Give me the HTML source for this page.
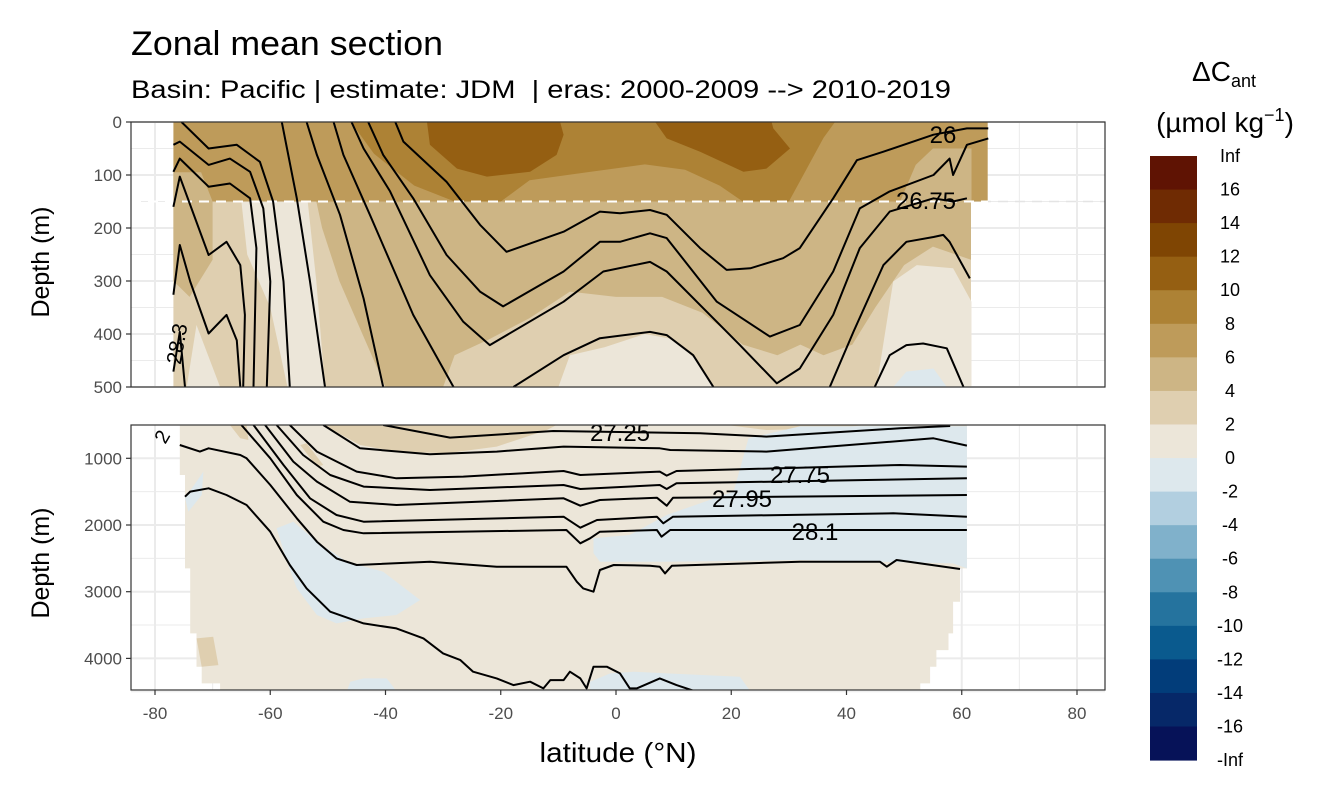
<!DOCTYPE html>
<html><head><meta charset="utf-8">
<style>
body{margin:0;background:#fff;}
svg{display:block;font-family:"Liberation Sans",sans-serif;}
</style></head>
<body>
<svg id="chart" width="1344" height="806" viewBox="0 0 1344 806" xmlns="http://www.w3.org/2000/svg">
<defs>
<clipPath id="clipTop"><rect x="131" y="122" width="974" height="265"/></clipPath>
<clipPath id="clipBot"><rect x="131" y="425" width="974" height="265"/></clipPath>
</defs>
<text x="131" y="55" font-size="34" textLength="312" lengthAdjust="spacingAndGlyphs" fill="#000">Zonal mean section</text>
<text x="131" y="98" font-size="25" textLength="820" lengthAdjust="spacingAndGlyphs" fill="#000" xml:space="preserve">Basin: Pacific | estimate: JDM  | eras: 2000-2009 --&gt; 2010-2019</text>
<g id="gridTop"></g>
<g id="gridBot"></g>
<g id="fillTop" clip-path="url(#clipTop)"></g>
<g id="fillBot" clip-path="url(#clipBot)"></g>
<line x1="131" y1="201.5" x2="1105" y2="201.5" stroke="#e4e4e4" stroke-width="1.5" stroke-dasharray="10,7"/>
<line x1="131" y1="201.5" x2="988" y2="201.5" stroke="#fff" stroke-width="2" stroke-dasharray="10,7"/>
<g id="linesTop" clip-path="url(#clipTop)"></g>
<g id="linesBot" clip-path="url(#clipBot)"></g>
<rect x="131" y="122" width="974" height="265" fill="none" stroke="#333" stroke-width="1.2"/>
<rect x="131" y="425" width="974" height="265" fill="none" stroke="#333" stroke-width="1.2"/>
<g id="axes"></g>
<text transform="translate(49,262) rotate(-90)" text-anchor="middle" font-size="25" textLength="111" lengthAdjust="spacingAndGlyphs">Depth (m)</text>
<text transform="translate(49,563) rotate(-90)" text-anchor="middle" font-size="25" textLength="111" lengthAdjust="spacingAndGlyphs">Depth (m)</text>
<text x="618" y="762" text-anchor="middle" font-size="28" textLength="157" lengthAdjust="spacingAndGlyphs">latitude (°N)</text>
<g id="legend">
<text x="1224" y="81" text-anchor="middle" font-size="28">ΔC<tspan font-size="18" dy="6">ant</tspan></text>
<text x="1225" y="132" text-anchor="middle" font-size="28">(µmol kg<tspan font-size="18" dy="-11">−1</tspan><tspan dy="11">)</tspan></text>
</g>
</svg>
<script>
const NS="http://www.w3.org/2000/svg";
// ---- data ----
const legendLabels=["Inf","16","14","12","10","8","6","4","2","0","-2","-4","-6","-8","-10","-12","-14","-16","-Inf"];
const legendColors=["#5f1303","#6f2b03","#7f4503","#955f12","#ad8235","#be9b5a","#cdb585","#dfcfb0","#ece6d9","#dde8ed","#b2cfe0","#80b1cb","#4f92b4","#25739e","#0a5a8e","#023d7a","#062868","#061258"];
const xTicks=[-80,-60,-40,-20,0,20,40,60,80];
const topDepthTicks=[0,100,200,300,400,500];
const botDepthTicks=[1000,2000,3000,4000];

// top panel fills
const topBandLat=[-76.8,64.5,64.5,-76.8];
const topBandDep=[0,0,150,150];
const topLowerLat=[-76.8,61.6,61.6,-76.8];
const topLowerDep=[150,150,500,500];
const tC8Lat=[-46,38,36,33,30,-28,-35,-42];
const tC8Dep=[0,0,30,90,150,150,120,60];
const tC6bLat=[-20,-15,-5,5,12,18,22];
const tC6bDep=[150,110,95,80,90,120,150];
const tC10aLat=[-32.8,-32.3,-27.6,-22.4,-14.9,-10.3,-9.1,-9.7];
const tC10aDep=[0,43,88,103,94,62,24,0];
const tC10bLat=[6.8,8.8,14.6,22.1,26.1,30.2,27.3,27.0];
const tC10bDep=[0,31,56,94,88,50,12,0];
const tC4aLat=[55,61.7,61.7,49.3,52];
const tC4aDep=[50,50,150,150,81];
const tC4bLat=[-76.8,-72,-70,-76.8];
const tC4bDep=[95,95,150,150];
const tC4cLat=[-52,61.6,61.6,55,50,45,41,36,32,28,22,15,8,0,-8,-15,-22,-28,-30,-40,-44,-48,-51];
const tC4cDep=[150,150,260,235,270,350,420,440,420,440,420,360,330,330,320,370,410,440,500,500,400,300,200];
const tC4dLat=[-76.8,-70,-70,-74,-76.8];
const tC4dDep=[150,150,260,330,300];
const tC0aLat=[-65,-53.5,-52,-50.5,-57,-60,-64];
const tC0aDep=[150,150,300,500,500,350,250];
const tC0bLat=[-72.8,-68.7,-74.5];
const tC0bDep=[383,500,500];
const tC0cLat=[-10,-8,-2,5,10,14,17];
const tC0cDep=[500,440,425,400,410,450,500];
const tC0dLat=[45.2,48.1,52.2,58.5,61.7,61.7];
const tC0dDep=[500,301,270,276,339,500];
const tCnLat=[48.1,50.4,55.1,57.4];
const tCnDep=[500,471,465,500];

// bottom panel fills
const bDataLat=[-75.7,60.9,60.9,59.7,59.7,58.5,58.5,57.7,57.7,55.6,55.6,54.5,54.5,52.8,52.8,-68.7,-68.7,-71.9,-71.9,-72.8,-72.8,-73.9,-73.9,-74.8,-74.8,-75.7];
const bDataDep=[500,500,2650,2650,3150,3150,3625,3625,3875,3875,4125,4125,4375,4375,4500,4500,4375,4375,4125,4125,3625,3625,2650,2650,1250,1250];
const bC2aLat=[-50.8,-44.4,-38.1,-29.4,-20.7,-12.0,-10.3];
const bC2aDep=[500,800,900,925,825,575,500];
const bC2bLat=[19.2,26.1,37.7,43.5];
const bC2bDep=[500,575,550,500];
const bC2cLat=[-72.8,-69.9,-69.0,-71.9];
const bC2cDep=[3700,3675,4100,4125];
const bC2dLat=[-54.8,-53.7,-50.8,-51.9];
const bC2dDep=[800,775,1100,1125];
const bC2eLat=[-67,-64.1,-63.8,-65.2];
const bC2eDep=[500,500,725,700];
const bNaLat=[-58.9,-56.0,-51.9,-46.7,-40.4,-34.0,-38.1,-43.8,-48.5,-51.9,-55.4,-57.1];
const bNaDep=[2050,1950,2250,2550,2700,3125,3350,3400,3475,3350,2950,2550];
const bNbLat=[23,32,60.9,60.9,58.5,31.9,8.8,-2.8,-3.9,-3.9,2.4,8.8,20.4];
const bNbDep=[700,520,520,2650,2575,2525,2550,2550,2425,2200,2150,1850,1500];
const bNcLat=[-46.1,-43.8,-39.8,-38.1,-46.7];
const bNcDep=[4350,4300,4300,4490,4490];
const bNdLat=[-4.5,-1,3,8.8,21.5,23.3,-4.5];
const bNdDep=[4350,4225,4200,4225,4275,4490,4490];
const bNeLat=[-74.8,-71.6,-71.9,-74.2];
const bNeDep=[1600,1200,1550,1800];

// top contour lines
const tLaLat=[-75.4,-70.7,-65.8,-61.8,-59.5,-57.7,-56.6];
const tLaDep=[0,50,43,75,150,301,500];
const tLbLat=[-76.8,-75.7,-70.7,-67.0,-63.5,-61.2,-60.0,-60.6];
const tLbDep=[43,37,81,69,94,163,301,500];
const tLcLat=[-76.8,-75.7,-70.7,-67.0,-63.5,-62.4,-62.9];
const tLcDep=[94,69,122,116,144,238,500];
const tLdLat=[-76.8,-75.7,-70.7,-67.6,-65.2,-64.4,-64.7];
const tLdDep=[160,103,251,226,270,364,500];
const tLeLat=[-76.8,-75.7,-73.9,-70.7,-67.6,-65.8,-65.2];
const tLeDep=[326,232,301,399,364,412,500];
const tLfLat=[-76.8,-75.7,-74.8];
const tLfDep=[471,396,500];
const tLgLat=[-58.0,-57.1,-55.4,-53.1,-50.5];
const tLgDep=[0,50,144,301,500];
const tLhLat=[-53.7,-51.9,-47.9,-43.8,-40.4];
const tLhDep=[0,62,175,333,500];
const tLiLat=[-49.0,-47.3,-42.7,-35.2,-28.2];
const tLiDep=[0,62,175,364,500];
const tLjLat=[-45.9,-43.8,-39.2,-32.3,-26.5,-21.9,-9.1,-2.2,5.9,8.8,17.5,21.5,27.9,31.9,37.7,42.3,47.5,55.1,58.5,60.9];
const tLjDep=[0,50,131,289,377,421,339,282,264,282,377,421,493,465,364,238,169,144,150,144];
const tLkLat=[-43.0,-40.4,-35.2,-29.4,-23.6,-19.6,-9.1,-2.8,0.7,5.9,8.8,17.5,26.7,31.9,37.7,42.3,47.5,55.1,57.9,58.5,60.9,64.6];
const tLkDep=[0,62,144,251,320,348,282,226,226,210,219,339,405,383,282,163,131,100,69,100,43,31];
const tLlLat=[-38.3,-36.9,-29.4,-23.6,-19.0,-9.1,-2.8,0.7,5.9,8.8,14.6,19.2,23.3,29.0,31.9,37.7,41.8,46.4,55.1,60.9,64.6];
const tLlDep=[0,37,113,194,245,207,169,172,166,175,238,279,276,257,238,144,72,56,24,12,12];
const tLmLat=[-17.8,-9.1,-2.8,5.9,8.8,13.4,16.9];
const tLmDep=[500,440,408,396,402,440,500];
const tLnLat=[37.1,41.2,46.4,50.4,55.1,56.8,57.9,61.4];
const tLnDep=[500,396,270,226,217,213,226,295];
const tLoLat=[44.9,47.5,50.4,53.3,57.4,60.3];
const tLoDep=[500,440,421,418,427,500];

// bottom contour lines
const bL1Lat=[-65.0,-60.0,-55.4,-50.8,-47.3,-43.8,-8.6,-6.2,-4.5,-2.8,7.1,7.9,9.4,60.9];
const bL1Dep=[500,1000,1550,1950,2075,2125,2075,2275,2200,2100,2075,2175,2075,2075];
const bL2Lat=[-62.9,-57.7,-53.1,-48.5,-43.8,-9.1,-6.2,-3.3,7.1,8.2,9.9,48.1,60.9];
const bL2Dep=[500,1100,1600,1850,1950,1875,2040,1925,1875,1975,1875,1825,1875];
const bL3Lat=[-60.9,-56.0,-51.9,-46.2,-38.1,-9.1,-6.2,-2.8,7.1,8.8,9.9,60.9];
const bL3Dep=[500,1050,1350,1650,1700,1600,1710,1625,1590,1710,1590,1550];
const bL4Lat=[-58.9,-54.3,-49.6,-43.8,-32.3,-9.1,-6.2,7.6,8.8,10.5,43.5,60.9];
const bL4Dep=[500,950,1250,1425,1475,1400,1460,1400,1460,1375,1325,1300];
const bL5Lat=[-56.6,-51.9,-45.0,-38.1,-26.5,-9.1,-6.2,7.6,8.8,10.5,49.3,60.9];
const bL5Dep=[500,900,1200,1300,1275,1190,1250,1200,1260,1190,1100,1125];
const bL6Lat=[-50.8,-44.4,-32.3,-20.7,-9.1,7.6,9.4,26.1,55.1,60.9];
const bL6Dep=[500,850,940,900,825,850,875,900,700,810];
const bL7Lat=[-40.4,-28.8,-10.9,14.6,26.1,49.3,58.0];
const bL7Dep=[500,690,590,625,675,550,515];
const bL8Lat=[-75.7,-72.2,-70.7,-65.2,-64.1,-60.0,-55.4,-51.9,-48.5,-45.0,-32.3,-20.7,-8.6,-6.8,-5.7,-3.9,-2.8,-0.4,5.9,7.6,8.5,9.7,31.9,45.8,47.0,48.7,59.7];
const bL8Dep=[800,900,850,950,1000,1400,1900,2250,2500,2600,2550,2625,2625,2850,2950,3000,2675,2600,2610,2625,2725,2610,2550,2550,2625,2525,2660];
const bL9Lat=[-74.8,-73.9,-70.7,-67.6,-64.1,-60.0,-56.6,-53.7,-49.6,-43.8,-38.1,-33.4,-30.0,-27.0,-24.8,-20.7,-17.8,-14.9,-12.6,-11.4,-9.1,-8.0,-6.2,-5.1,-3.9,-1.6,0.7,2.4,3.6,7.6,10.5,14.0];
const bL9Dep=[1575,1500,1450,1550,1700,2100,2600,2950,3300,3475,3550,3700,3925,4025,4200,4300,4400,4350,4450,4325,4325,4200,4300,4450,4125,4125,4225,4450,4450,4300,4400,4500];

// ---- scales ----
function xS(lat){return 616+lat*5.7625;}
function yT(d){return 122+d*0.53;}
function yB(d){return 458.3+(d-1000)*0.0667;}
function pts(lats,deps,yf){return lats.map((l,i)=>xS(l).toFixed(1)+","+yf(deps[i]).toFixed(1)).join(" ");}
const gFT=document.getElementById("fillTop"),gFB=document.getElementById("fillBot");
const gLT=document.getElementById("linesTop"),gLB=document.getElementById("linesBot");
function poly(g,lats,deps,yf,color,name){
  const p=document.createElementNS(NS,"polygon");
  p.setAttribute("points",pts(lats,deps,yf));
  p.setAttribute("fill",color);
  
  
  g.appendChild(p);
}
function pline(g,lats,deps,yf,name){
  const p=document.createElementNS(NS,"polyline");
  p.setAttribute("points",pts(lats,deps,yf));
  p.setAttribute("fill","none");
  p.setAttribute("stroke","#000");
  p.setAttribute("stroke-width","2");
  p.setAttribute("stroke-linejoin","round");
  
  
  g.appendChild(p);
}
function txt(parent,x,y,s,size,anchor,fill,rot,name){
  const t=document.createElementNS(NS,"text");
  t.setAttribute("x",x);t.setAttribute("y",y);
  t.setAttribute("font-size",size);
  t.setAttribute("text-anchor",anchor);
  t.setAttribute("fill",fill);
  if(rot)t.setAttribute("transform","rotate("+rot+" "+x+" "+y+")");
  t.textContent=s;
  
  
  parent.appendChild(t);
}
const C=legendColors;
function gl(g,x1,y1,x2,y2,w,name){
  const l=document.createElementNS(NS,"line");
  l.setAttribute("x1",x1);l.setAttribute("y1",y1);l.setAttribute("x2",x2);l.setAttribute("y2",y2);
  l.setAttribute("stroke","#ebebeb");l.setAttribute("stroke-width",w);
  
  
  g.appendChild(l);
}
const gGT=document.getElementById("gridTop"),gGB=document.getElementById("gridBot");
for(let v=-80;v<=80;v+=10){const maj=(v%20===0);
  gl(gGT,xS(v),122,xS(v),387,maj?2:1,"top-grid-x");gl(gGB,xS(v),425,xS(v),690,maj?2:1,"bottom-grid-x");}
for(let d=0;d<=500;d+=50){gl(gGT,131,yT(d),1105,yT(d),d%100===0?2:1,"top-grid-y");}
for(let d=500;d<=4500;d+=500){gl(gGB,131,yB(d),1105,yB(d),d%1000===0?2:1,"bottom-grid-y");}
// top fills
poly(gFT,topBandLat,topBandDep,yT,C[5],"fill-6-8-upper");
poly(gFT,topLowerLat,topLowerDep,yT,C[7],"fill-2-4-lower");
poly(gFT,tC8Lat,tC8Dep,yT,C[4],"fill-8-10");
poly(gFT,tC6bLat,tC6bDep,yT,C[5],"fill-6-8-patch");
poly(gFT,tC10aLat,tC10aDep,yT,C[3],"fill-10-12-south");
poly(gFT,tC10bLat,tC10bDep,yT,C[3],"fill-10-12-north");
poly(gFT,tC4aLat,tC4aDep,yT,C[6],"fill-4-6-north-upper");
poly(gFT,tC4bLat,tC4bDep,yT,C[6],"fill-4-6-south-upper");
poly(gFT,tC4cLat,tC4cDep,yT,C[6],"fill-4-6-main");
poly(gFT,tC4dLat,tC4dDep,yT,C[6],"fill-4-6-south");
poly(gFT,tC0aLat,tC0aDep,yT,C[8],"fill-0-2-south-band");
poly(gFT,tC0bLat,tC0bDep,yT,C[8],"fill-0-2-south-deep");
poly(gFT,tC0cLat,tC0cDep,yT,C[8],"fill-0-2-equator");
poly(gFT,tC0dLat,tC0dDep,yT,C[8],"fill-0-2-north");
poly(gFT,tCnLat,tCnDep,yT,C[9],"fill-neg2-0-north");
// bottom fills
poly(gFB,bDataLat,bDataDep,yB,C[8],"fill-0-2-deep");
poly(gFB,bC2aLat,bC2aDep,yB,C[7],"fill-2-4-deep-a");
poly(gFB,bC2bLat,bC2bDep,yB,C[7],"fill-2-4-deep-b");
poly(gFB,bC2cLat,bC2cDep,yB,C[7],"fill-2-4-deep-c");
poly(gFB,bC2dLat,bC2dDep,yB,C[7],"fill-2-4-deep-d");
poly(gFB,bC2eLat,bC2eDep,yB,C[7],"fill-2-4-deep-e");
poly(gFB,bNaLat,bNaDep,yB,C[9],"fill-neg-deep-south");
poly(gFB,bNbLat,bNbDep,yB,C[9],"fill-neg-deep-north");
poly(gFB,bNcLat,bNcDep,yB,C[9],"fill-neg-bottom-a");
poly(gFB,bNdLat,bNdDep,yB,C[9],"fill-neg-bottom-b");
poly(gFB,bNeLat,bNeDep,yB,C[9],"fill-neg-bottom-c");
// contours
[[tLaLat,tLaDep],[tLbLat,tLbDep],[tLcLat,tLcDep],[tLdLat,tLdDep],[tLeLat,tLeDep],[tLfLat,tLfDep],[tLgLat,tLgDep],[tLhLat,tLhDep],[tLiLat,tLiDep],[tLjLat,tLjDep],[tLkLat,tLkDep],[tLlLat,tLlDep],[tLmLat,tLmDep],[tLnLat,tLnDep],[tLoLat,tLoDep]].forEach(a=>pline(gLT,a[0],a[1],yT,"isopycnal-upper"));
[[bL1Lat,bL1Dep],[bL2Lat,bL2Dep],[bL3Lat,bL3Dep],[bL4Lat,bL4Dep],[bL5Lat,bL5Dep],[bL6Lat,bL6Dep],[bL7Lat,bL7Dep],[bL8Lat,bL8Dep],[bL9Lat,bL9Dep]].forEach(a=>pline(gLB,a[0],a[1],yB,"isopycnal-deep"));
// contour labels
txt(gLT,943,143,"26",24,"middle","#000",0,"contour-label-26");
txt(gLT,926,209,"26.75",24,"middle","#000",0,"contour-label-26-75");
txt(gLT,184,345,"28.3",21,"middle","#000",-80,"contour-label-28-3");
txt(gLB,620,441,"27.25",24,"middle","#000",0,"contour-label-27-25");
txt(gLB,800,483,"27.75",24,"middle","#000",0,"contour-label-27-75");
txt(gLB,742,507,"27.95",24,"middle","#000",0,"contour-label-27-95");
txt(gLB,815,540,"28.1",24,"middle","#000",0,"contour-label-28-1");
txt(gLB,168,440,"2",20,"middle","#000",-60,"contour-label-partial");
// axes ticks & labels
const gA=document.getElementById("axes");
xTicks.forEach(v=>{
  gl(gA,xS(v),690,xS(v),695,1.2,"x-tick");
  gA.lastChild.setAttribute("stroke","#333");
  txt(gA,xS(v),719,String(v),17,"middle","#4d4d4d",0,"x-tick-label");
});
topDepthTicks.forEach(d=>{
  gl(gA,126,yT(d),131,yT(d),1.2,"top-y-tick");
  gA.lastChild.setAttribute("stroke","#333");
  txt(gA,122,yT(d)+6,String(d),17,"end","#4d4d4d",0,"top-y-tick-label");
});
botDepthTicks.forEach(d=>{
  gl(gA,126,yB(d),131,yB(d),1.2,"bottom-y-tick");
  gA.lastChild.setAttribute("stroke","#333");
  txt(gA,122,yB(d)+6,String(d),17,"end","#4d4d4d",0,"bottom-y-tick-label");
});
// legend
const gL=document.getElementById("legend");
const lgTop=156,lgH=33.56;
legendColors.forEach((c,i)=>{
  const r=document.createElementNS(NS,"rect");
  r.setAttribute("x",1150);r.setAttribute("y",lgTop+i*lgH);
  r.setAttribute("width",47);r.setAttribute("height",lgH+0.5);
  r.setAttribute("fill",c);
  
  
  gL.appendChild(r);
});
legendLabels.forEach((s,i)=>{
  txt(gL,1230,lgTop+i*lgH+6,s,18,"middle","#000",0,"legend-label");
});
</script>
</body></html>
